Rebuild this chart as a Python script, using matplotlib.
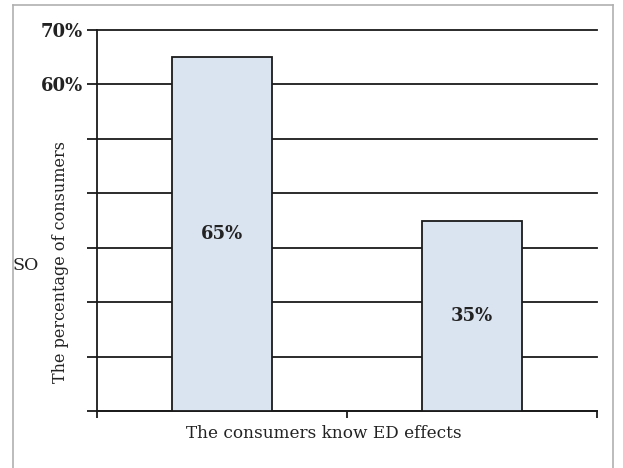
import matplotlib
matplotlib.use("Agg")
import matplotlib.pyplot as plt
from matplotlib.lines import Line2D

categories = ["Know ED effects", "Do not know"]
values = [65, 35]
bar_labels = ["65%", "35%"]
yticks = [0, 10, 20, 30, 40, 50, 60, 70]
ytick_labels = ["", "", "", "", "", "", "60%", "70%"]

W, H = 623, 468
fig = plt.figure(figsize=(W / 100, H / 100), dpi=100)
fig.patch.set_facecolor("white")

def fx(px):
    return px / W

def fy(py):
    return 1 - py / H

ax = fig.add_axes([fx(97), fy(411), fx(597) - fx(97), fy(30) - fy(411)])
serif = "DejaVu Serif"

xpos = [0.5, 1.5]
ax.bar(xpos, values, width=0.4, color="#DAE3F0", edgecolor="#1a1a1a",
       linewidth=1.3, zorder=3)
for x, v, lab in zip(xpos, values, bar_labels):
    ax.text(x, v / 2, lab, ha="center", va="center", fontsize=13,
            fontweight="bold", family=serif, color="#222222", zorder=4)

ax.set_xlim(0, 2)
ax.set_ylim(0, 70)
ax.set_yticks(yticks)
ax.set_yticklabels(ytick_labels, fontsize=13, fontweight="bold",
                   family=serif, color="#222222")
ax.set_xticks([0, 1, 2])
ax.set_xticklabels(["", "", ""])
ax.tick_params(axis="y", direction="out", length=7, width=1.3,
               color="#1a1a1a", pad=3)
ax.tick_params(axis="x", direction="out", length=5, width=1.3,
               color="#1a1a1a")
ax.yaxis.grid(True, color="#1a1a1a", linewidth=1.3, zorder=0)
for gl in ax.get_ygridlines():
    gl.set_clip_on(False)
ax.set_axisbelow(True)
for s in ["top", "right"]:
    ax.spines[s].set_visible(False)
for s in ["left", "bottom"]:
    ax.spines[s].set_linewidth(1.3)
    ax.spines[s].set_color("#1a1a1a")

fig.text(fx(324), fy(433), "The consumers know ED effects", ha="center",
         va="center", fontsize=12.2, family=serif, color="#222222")
fig.text(fx(61), fy(262), "The percentage of consumers", ha="center",
         va="center", rotation=90, fontsize=11.5, family=serif,
         color="#222222")
fig.text(fx(12), fy(265), "SO", ha="left", va="center", fontsize=12.5,
         family=serif, color="#222222")

border = "#b0b0b0"
fig.add_artist(Line2D([fx(13), fx(13)], [fy(5), 0], color=border, lw=1.2))
fig.add_artist(Line2D([fx(13), fx(613)], [fy(5), fy(5)], color=border, lw=1.2))
fig.add_artist(Line2D([fx(613), fx(613)], [fy(5), 0], color=border, lw=1.2))

fig.savefig("out.png", dpi=100)
